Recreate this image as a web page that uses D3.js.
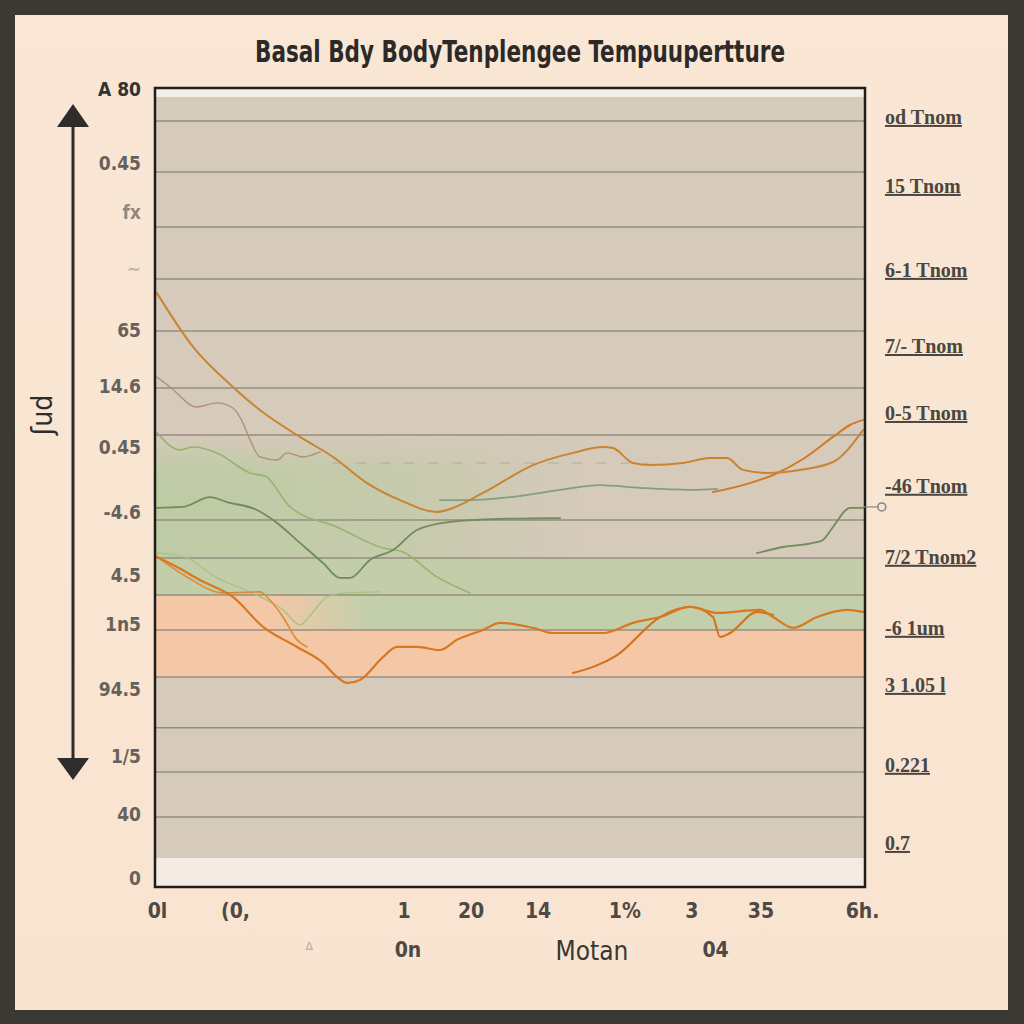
<!DOCTYPE html>
<html><head><meta charset="utf-8">
<script src="https://cdn.jsdelivr.net/npm/d3@7"></script>
<style>body{margin:0;background:#3a3934}</style>
</head><body>
<svg id="c" width="1024" height="1024"></svg>
<script>
// ---------------- DATA ----------------
const chartTitle = "Basal Bdy BodyTenplengee Tempuupertture";
const yAxisTitle = "ʃud";
const xTitle = "Motan";

const xTickValues = [0.1, 4.06, 12.6, 16.0, 19.4, 23.8, 27.2, 30.7, 35.85];
const xTickLabels = ["0l", "(0,", "1", "20", "14", "1%", "3", "35", "6h."];
const xSubValues = [7.8, 12.8, 28.4];
const xSubLabels = ["ᐞ", "0n", "04"];

const leftTickValues = [38.028, 37.740, 37.547, 37.326, 37.078, 36.861, 36.620, 36.364, 36.116, 35.919, 35.663, 35.402, 35.170, 34.921];
const leftTickLabels = ["A 80", "0.45", "fx", "~", "65", "14.6", "0.45", "-4.6", "4.5", "1n5", "94.5", "1/5", "40", "0"];

const rightTickValues = [37.921, 37.649, 37.318, 37.018, 36.754, 36.467, 36.187, 35.907, 35.682, 35.367, 35.059];
const rightTickLabels = ["od Tnom", "15 Tnom", "6-1 Tnom", "7/- Tnom", "0-5 Tnom", "-46 Tnom", "7/2 Tnom2", "-6 1um", "3 1.05 l", "0.221", "0.7"];

const gridValues = [37.905, 37.704, 37.488, 37.283, 37.078, 36.853, 36.668, 36.332, 36.183, 36.037, 35.899, 35.714, 35.513, 35.339, 35.162];
const dashedGridValues = [36.557];

// bands [top, bottom] in °C
const greenFadeBand = [36.668, 36.183];
const greenBand = [36.183, 36.037];
const greenRightBand = [36.037, 35.899];
const salmonBand = [36.037, 35.714];

// series: [day, temperature]
const s1 = [[0.10,37.227],[1.93,37.015],[3.95,36.857],[5.32,36.766],[7.35,36.660],[9.03,36.581],[10.75,36.478],[12.42,36.411],[14.30,36.364],[14.81,36.372],[16.63,36.439],[19.17,36.549],[21.19,36.597],[22.72,36.620],[23.22,36.616],[24.24,36.557],[25.10,36.549],[26.77,36.557],[28.14,36.577],[29.00,36.577],[29.81,36.530],[31.03,36.518],[32.70,36.530],[34.38,36.561],[35.90,36.687]];
const s2 = [[0.10,36.896],[0.76,36.857],[2.13,36.778],[3.14,36.794],[3.95,36.774],[4.46,36.715],[4.82,36.648],[5.32,36.581],[6.19,36.569],[6.69,36.597],[7.50,36.581],[8.37,36.601]];
const s3 = [[0.10,36.676],[1.27,36.609],[1.93,36.620],[3.14,36.597],[4.82,36.518],[5.68,36.502],[5.83,36.490],[6.85,36.384],[9.23,36.305],[11.56,36.222],[12.57,36.206],[14.30,36.108],[15.97,36.045]];
const s4 = [[0.10,36.380],[1.42,36.384],[2.79,36.423],[3.65,36.403],[5.17,36.372],[6.19,36.321],[7.35,36.242],[8.52,36.163],[9.38,36.104],[9.89,36.104],[10.90,36.175],[12.07,36.214],[13.28,36.293],[14.96,36.325],[17.49,36.337],[20.54,36.340]];
const s5 = [[14.45,36.411],[15.97,36.411],[18.51,36.427],[20.54,36.451],[22.56,36.470],[24.59,36.459],[27.13,36.451],[28.50,36.455]];
const s6 = [[30.52,36.202],[31.84,36.226],[33.36,36.242],[33.87,36.254],[34.38,36.305],[35.24,36.380],[35.90,36.380]];
const s7 = [[28.29,36.443],[29.81,36.470],[31.34,36.510],[32.86,36.573],[34.38,36.660],[35.24,36.707],[35.90,36.727]];
const s8 = [[0.10,36.187],[1.12,36.147],[2.28,36.096],[3.95,36.029],[5.48,35.911],[7.20,35.832],[8.52,35.769],[9.23,35.714],[9.74,35.690],[10.39,35.702],[11.56,35.792],[12.27,35.832],[13.28,35.832],[14.45,35.820],[15.31,35.860],[16.63,35.899],[17.49,35.927],[19.17,35.907],[20.18,35.887],[22.72,35.887],[24.24,35.927],[25.61,35.950],[27.13,35.990],[28.50,35.966],[30.68,35.978],[31.34,35.950],[32.35,35.907],[33.57,35.950],[35.09,35.978],[35.90,35.970]];
const s9 = [[0.10,36.187],[1.62,36.108],[3.45,36.045],[5.32,36.049],[5.68,36.029],[6.49,35.950],[7.20,35.860],[7.71,35.832]];
const s10 = [[21.19,35.729],[23.43,35.800],[25.61,35.950],[27.13,35.990],[28.29,35.950],[28.65,35.871],[29.16,35.887],[30.52,35.970],[31.34,35.958]];
const s11 = [[0.10,36.203],[1.62,36.183],[3.14,36.104],[4.82,36.049],[6.49,35.978],[7.35,35.919],[8.01,35.970],[8.72,36.029],[9.63,36.045],[11.41,36.049]];
const endMarker = [[36.85, 36.384]];

const seriesList = [s2, s3, s11, s4, s5, s6, s9, s10, s8, s7, s1];
const seriesColors = ["#b08f72", "#95b46e", "#a9c27f", "#6f8c5a", "#7f9f86", "#6f8c5a", "#e08a35", "#d2701c", "#d9781f", "#d27a22", "#c98431"];
const seriesWidths = [1.4, 1.6, 1.4, 1.8, 1.8, 1.8, 1.6, 2, 2.2, 2, 2];

// ---------------- DRAW ----------------
const svg = d3.select("#c");
const W = 1024, H = 1024;
const plot = {x0: 155, x1: 865, y0: 88, y1: 887};
const x = d3.scaleLinear().domain([0, 36]).range([155, 865]);
const y = d3.scaleLinear().domain([35, 38]).range([858, 97]);
const font = "'Liberation Sans Narrow','DejaVu Sans Condensed','Liberation Sans',sans-serif";

// page
svg.append("rect").attr("width", W).attr("height", H).attr("fill", "#3a3934");
const defs = svg.append("defs");
const pg = defs.append("linearGradient").attr("id", "pg").attr("x1", 0).attr("y1", 0).attr("x2", 0).attr("y2", 1);
pg.append("stop").attr("offset", 0).attr("stop-color", "#f9e6d4");
pg.append("stop").attr("offset", 1).attr("stop-color", "#f8e4d0");
svg.append("rect").attr("x", 15).attr("y", 15).attr("width", 993).attr("height", 995).attr("fill", "url(#pg)");

const gh = defs.append("linearGradient").attr("id", "gfade").attr("x1", 0).attr("y1", 0).attr("x2", 1).attr("y2", 0);
gh.append("stop").attr("offset", 0).attr("stop-color", "#b9cba0").attr("stop-opacity", 0.85);
gh.append("stop").attr("offset", 0.35).attr("stop-color", "#b9cba0").attr("stop-opacity", 0.55);
gh.append("stop").attr("offset", 0.6).attr("stop-color", "#b9cba0").attr("stop-opacity", 0.0);
const gv = defs.append("linearGradient").attr("id", "gvert").attr("x1", 0).attr("y1", 0).attr("x2", 0).attr("y2", 1);
gv.append("stop").attr("offset", 0).attr("stop-color", "#fff").attr("stop-opacity", 0);
gv.append("stop").attr("offset", 0.3).attr("stop-color", "#fff").attr("stop-opacity", 1);
gv.append("stop").attr("offset", 1).attr("stop-color", "#fff").attr("stop-opacity", 1);
defs.append("mask").attr("id", "gmask").append("rect")
  .attr("x", plot.x0).attr("y", y(greenFadeBand[0])).attr("width", plot.x1 - plot.x0)
  .attr("height", y(greenFadeBand[1]) - y(greenFadeBand[0])).attr("fill", "url(#gvert)");
const gr = defs.append("linearGradient").attr("id", "gright").attr("x1", 0).attr("y1", 0).attr("x2", 1).attr("y2", 0);
gr.append("stop").attr("offset", 0).attr("stop-color", "#c3cfab").attr("stop-opacity", 0);
gr.append("stop").attr("offset", 0.16).attr("stop-color", "#c3cfab").attr("stop-opacity", 0);
gr.append("stop").attr("offset", 0.3).attr("stop-color", "#c3cfab").attr("stop-opacity", 1);
gr.append("stop").attr("offset", 1).attr("stop-color", "#c3cfab").attr("stop-opacity", 1);

// plot background
svg.append("rect").attr("x", plot.x0).attr("y", plot.y0).attr("width", plot.x1 - plot.x0).attr("height", plot.y1 - plot.y0).attr("fill", "#d6cabb");
svg.append("rect").attr("x", plot.x0).attr("y", plot.y0).attr("width", plot.x1 - plot.x0).attr("height", y(38) - plot.y0).attr("fill", "#f5eee7");
svg.append("rect").attr("x", plot.x0).attr("y", y(35)).attr("width", plot.x1 - plot.x0).attr("height", plot.y1 - y(35)).attr("fill", "#f4ece3");

// bands
const bw = plot.x1 - plot.x0;
svg.append("rect").attr("x", plot.x0).attr("y", y(greenFadeBand[0])).attr("width", bw)
  .attr("height", y(greenFadeBand[1]) - y(greenFadeBand[0])).attr("fill", "url(#gfade)").attr("mask", "url(#gmask)");
svg.append("rect").attr("x", plot.x0).attr("y", y(salmonBand[0])).attr("width", bw)
  .attr("height", y(salmonBand[1]) - y(salmonBand[0])).attr("fill", "#f4c7a7");
svg.append("rect").attr("x", plot.x0).attr("y", y(greenBand[0])).attr("width", bw)
  .attr("height", y(greenBand[1]) - y(greenBand[0])).attr("fill", "#c4cdaa");
svg.append("rect").attr("x", plot.x0).attr("y", y(greenRightBand[0])).attr("width", bw)
  .attr("height", y(greenRightBand[1]) - y(greenRightBand[0])).attr("fill", "url(#gright)");

// gridlines
svg.append("g").selectAll("line").data(gridValues).join("line")
  .attr("x1", plot.x0).attr("x2", plot.x1).attr("y1", d => y(d)).attr("y2", d => y(d))
  .attr("stroke", "#8c8379").attr("stroke-width", 1.5).attr("opacity", 0.85);
svg.append("g").selectAll("line").data(dashedGridValues).join("line")
  .attr("x1", x(9)).attr("x2", x(25)).attr("y1", d => y(d)).attr("y2", d => y(d))
  .attr("stroke", "#a09589").attr("stroke-width", 1).attr("stroke-dasharray", "10 14").attr("opacity", 0.6);

// lines
const line = d3.line().x(d => x(d[0])).y(d => y(d[1])).curve(d3.curveMonotoneX);
const lg = svg.append("g");
seriesList.forEach((s, i) => {
  lg.append("path").datum(s).attr("d", line).attr("fill", "none")
    .attr("stroke", seriesColors[i]).attr("stroke-width", seriesWidths[i])
    .attr("stroke-linejoin", "round").attr("stroke-linecap", "round");
});

// frame
svg.append("rect").attr("x", plot.x0).attr("y", plot.y0).attr("width", plot.x1 - plot.x0).attr("height", plot.y1 - plot.y0)
  .attr("fill", "none").attr("stroke", "#1e1d1b").attr("stroke-width", 2.5);

// end marker outside frame
svg.append("g").selectAll("circle").data(endMarker).join("circle")
  .attr("cx", d => x(d[0])).attr("cy", d => y(d[1])).attr("r", 4)
  .attr("fill", "#f3e6d8").attr("stroke", "#8a8580").attr("stroke-width", 1.5);
svg.append("line").attr("x1", x(35.9)).attr("x2", x(36.7)).attr("y1", y(36.384)).attr("y2", y(36.384))
  .attr("stroke", "#8a8580").attr("stroke-width", 1.2);

// title
svg.append("text").attr("x", 520).attr("y", 62).attr("text-anchor", "middle")
  .attr("font-family", font).attr("font-size", 31).attr("font-weight", "bold").attr("fill", "#2c2a28")
  .attr("textLength", 530).attr("lengthAdjust", "spacingAndGlyphs").text(chartTitle);

// left axis
const leftAxis = d3.axisLeft(y).tickValues(leftTickValues).tickSize(0).tickPadding(0)
  .tickFormat((d, i) => leftTickLabels[i]);
const la = svg.append("g").attr("transform", "translate(141,0)").call(leftAxis);
la.select(".domain").remove();
la.selectAll("text").attr("font-family", font).attr("font-size", 19).attr("font-weight", "bold")
  .attr("fill", (d, i) => i === 0 ? "#333" : "#67615b")
  .attr("opacity", (d, i) => i === 3 ? 0.35 : (i === 2 ? 0.7 : 1));

// right axis
const rightAxis = d3.axisRight(y).tickValues(rightTickValues).tickSize(0).tickPadding(0)
  .tickFormat((d, i) => rightTickLabels[i]);
const ra = svg.append("g").attr("transform", "translate(885,0)").call(rightAxis);
ra.select(".domain").remove();
ra.selectAll("text").attr("font-family", "'Liberation Serif','DejaVu Serif',serif").attr("font-size", 20).attr("font-weight", "bold")
  .attr("fill", "#4b4640").attr("text-decoration", "underline");

// x axis
const xAxis = d3.axisBottom(x).tickValues(xTickValues).tickSize(0).tickPadding(0)
  .tickFormat((d, i) => xTickLabels[i]);
const xa = svg.append("g").attr("transform", "translate(0,903)").call(xAxis);
xa.select(".domain").remove();
xa.selectAll("text").attr("font-family", font).attr("font-size", 21).attr("font-weight", "bold").attr("fill", "#4e4944");

const xs = svg.append("g").attr("transform", "translate(0,942)").call(
  d3.axisBottom(x).tickValues(xSubValues).tickSize(0).tickPadding(0).tickFormat((d, i) => xSubLabels[i]));
xs.select(".domain").remove();
xs.selectAll("text").attr("font-family", font).attr("font-size", 21).attr("font-weight", "bold")
  .attr("fill", "#4e4944").attr("opacity", (d, i) => i === 0 ? 0.3 : 1);

svg.append("text").attr("x", 592).attr("y", 960).attr("text-anchor", "middle")
  .attr("font-family", font).attr("font-size", 26).attr("fill", "#3a3632").text(xTitle);

// left arrow axis
svg.append("line").attr("x1", 73).attr("x2", 73).attr("y1", 120).attr("y2", 762).attr("stroke", "#2e2d2b").attr("stroke-width", 3);
svg.append("path").attr("d", "M73,104 L57,127 L89,127 Z").attr("fill", "#2e2d2b");
svg.append("path").attr("d", "M73,780 L57,758 L89,758 Z").attr("fill", "#2e2d2b");
svg.append("text").attr("transform", "translate(52,415) rotate(-90)").attr("text-anchor", "middle")
  .attr("font-family", font).attr("font-size", 28).attr("fill", "#2e2d2b").text(yAxisTitle);
</script>
</body></html>
